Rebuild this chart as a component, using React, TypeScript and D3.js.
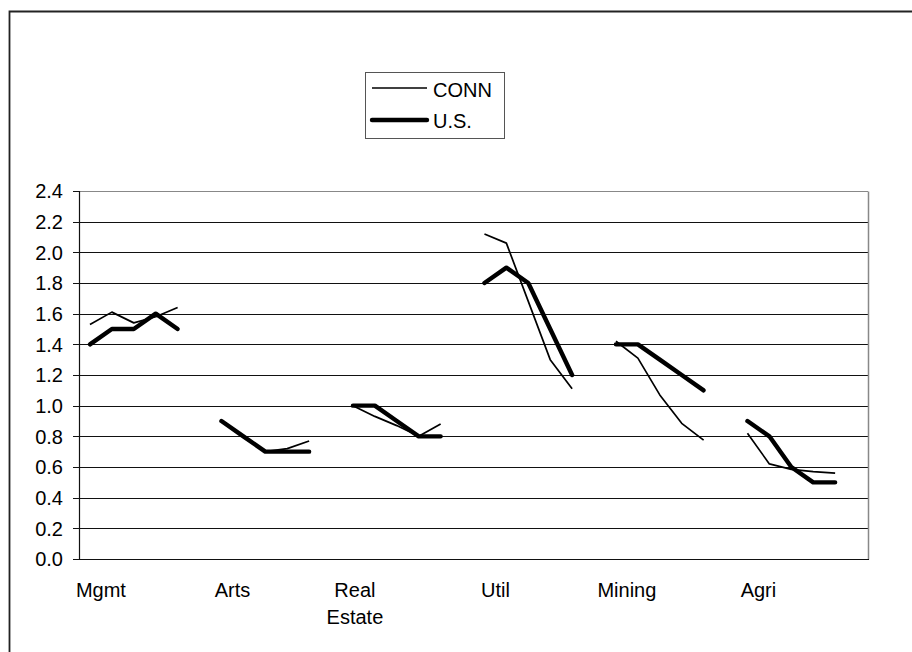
import React from "react";
import * as d3 from "d3";

const categories = ["Mgmt", "Arts", "Real Estate", "Util", "Mining", "Agri"];
const connValues = [
  [1.53, 1.61, 1.54, 1.58, 1.64],
  [0.9, 0.8, 0.7, 0.72, 0.77],
  [1.0, 0.93, 0.87, 0.8, 0.88],
  [2.12, 2.06, 1.68, 1.3, 1.11],
  [1.42, 1.31, 1.07, 0.885, 0.775],
  [0.82, 0.62, 0.585, 0.57, 0.56],
];
const usValues = [
  [1.4, 1.5, 1.5, 1.6, 1.5],
  [0.9, 0.8, 0.7, 0.7, 0.7],
  [1.0, 1.0, 0.9, 0.8, 0.8],
  [1.8, 1.9, 1.8, 1.5, 1.2],
  [1.4, 1.4, 1.3, 1.2, 1.1],
  [0.9, 0.8, 0.6, 0.5, 0.5],
];
const yTicks = [0, 0.2, 0.4, 0.6, 0.8, 1.0, 1.2, 1.4, 1.6, 1.8, 2.0, 2.2, 2.4];
const seriesNames = ["CONN", "U.S."];

const W = 912;
const H = 652;
const plot = { left: 79, right: 868, top: 191, bottom: 559 };
const slotsPerGroup = 6;
const font = "'Liberation Sans', Arial, Helvetica, sans-serif";

export default function App() {
  const nSlots = categories.length * slotsPerGroup;
  const x = d3.scaleBand<number>().domain(d3.range(nSlots)).range([plot.left, plot.right]).padding(0);
  const bw = x.bandwidth();
  const cx = (i: number) => (x(i) as number) + bw / 2;
  const y = d3.scaleLinear().domain([0, 2.4]).range([plot.bottom, plot.top]);

  const line = d3
    .line<[number, number]>()
    .x((d) => cx(d[0]))
    .y((d) => y(d[1]));

  const groupPaths = (vals: number[][]) =>
    vals.map((g, gi) => line(g.map((v, k) => [gi * slotsPerGroup + k, v] as [number, number])) || "");

  const connPaths = groupPaths(connValues);
  const usPaths = groupPaths(usValues);

  return (
    <svg
      width={W}
      height={H}
      style={{ position: "absolute", left: 0, top: 0, background: "#fff" }}
      fontFamily={font}
    >
      <rect x={0} y={0} width={W} height={H} fill="#fff" />
      {/* outer frame */}
      <path d={`M9.5,${H + 5} V11.5 H${W + 5}`} fill="none" stroke="#222" strokeWidth={1.8} />

      {/* gridlines */}
      {yTicks.map((t) => (
        <line
          key={"g" + t}
          x1={plot.left}
          x2={plot.right}
          y1={Math.round(y(t)) + 0.5}
          y2={Math.round(y(t)) + 0.5}
          stroke={t === 2.4 ? "#888" : "#111"}
          strokeWidth={1}
        />
      ))}
      {/* plot border right */}
      <line x1={plot.right + 0.5} x2={plot.right + 0.5} y1={Math.round(plot.top) + 0.5} y2={plot.bottom + 0.5} stroke="#888" strokeWidth={1.5} />
      {/* y axis */}
      <line x1={plot.left + 0.5} x2={plot.left + 0.5} y1={plot.top} y2={plot.bottom + 1} stroke="#111" strokeWidth={1.2} />
      {/* x axis */}
      <line x1={plot.left} x2={plot.right + 1} y1={plot.bottom + 0.5} y2={plot.bottom + 0.5} stroke="#111" strokeWidth={1.2} />

      {/* y ticks + labels */}
      {yTicks.map((t) => (
        <g key={"t" + t}>
          <line x1={73} x2={plot.left} y1={Math.round(y(t)) + 0.5} y2={Math.round(y(t)) + 0.5} stroke="#111" strokeWidth={1} />
          <text x={63} y={y(t)} dy="0.36em" textAnchor="end" fontSize={20} fill="#000">
            {t.toFixed(1)}
          </text>
        </g>
      ))}

      {/* x category labels */}
      {categories.map((c, gi) => {
        const xc = (x(gi * slotsPerGroup + 1) as number);
        if (c.includes(" ")) {
          const parts = c.split(" ");
          return (
            <text key={c} x={xc - 9} y={597} textAnchor="middle" fontSize={20} fill="#000">
              {parts.map((p, pi) => (
                <tspan key={p} x={xc - 9} dy={pi === 0 ? 0 : 27}>
                  {p}
                </tspan>
              ))}
            </text>
          );
        }
        return (
          <text key={c} x={xc} y={597} textAnchor="middle" fontSize={20} fill="#000">
            {c}
          </text>
        );
      })}

      {/* series */}
      {connPaths.map((d, i) => (
        <path key={"c" + i} d={d} fill="none" stroke="#000" strokeWidth={1.7} strokeLinejoin="round" />
      ))}
      {usPaths.map((d, i) => (
        <path key={"u" + i} d={d} fill="none" stroke="#000" strokeWidth={4.4} strokeLinejoin="round" strokeLinecap="round" />
      ))}

      {/* legend */}
      <rect x={365.5} y={72.5} width={139} height={66} fill="#fff" stroke="#555" strokeWidth={1} />
      <line x1={372} x2={427} y1={88} y2={88} stroke="#000" strokeWidth={1.7} />
      <text x={433} y={96.5} fontSize={20} fill="#000">
        {seriesNames[0]}
      </text>
      <line x1={372} x2={427} y1={120} y2={120} stroke="#000" strokeWidth={4.4} strokeLinecap="round" />
      <text x={433} y={127.5} fontSize={20} fill="#000">
        {seriesNames[1]}
      </text>
    </svg>
  );
}
